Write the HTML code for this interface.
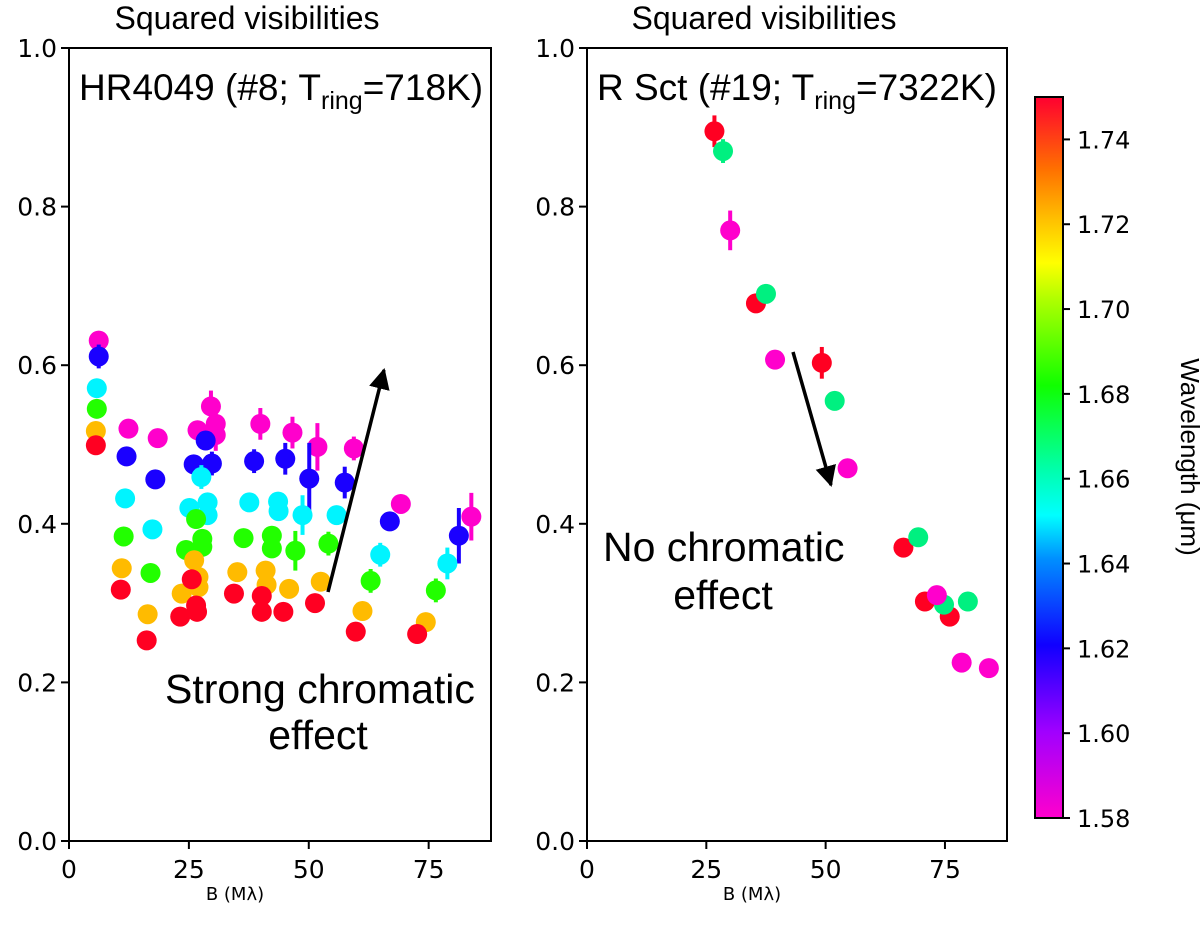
<!DOCTYPE html>
<html><head><meta charset="utf-8"><style>
html,body{margin:0;padding:0;background:#fff;}
svg{display:block;}
</style></head><body>
<svg id="chart" width="1200" height="928" viewBox="0 0 1200 928" xmlns="http://www.w3.org/2000/svg">
<defs>
<linearGradient id="cbgrad" x1="0" y1="1" x2="0" y2="0">
<stop offset="0" stop-color="#ff00cc"/>
<stop offset="0.12" stop-color="#a000ff"/>
<stop offset="0.24" stop-color="#1000ff"/>
<stop offset="0.36" stop-color="#0090ff"/>
<stop offset="0.42" stop-color="#00ffff"/>
<stop offset="0.48" stop-color="#00ffb0"/>
<stop offset="0.60" stop-color="#10ff00"/>
<stop offset="0.72" stop-color="#b0ff00"/>
<stop offset="0.77" stop-color="#ffff00"/>
<stop offset="0.83" stop-color="#ffc000"/>
<stop offset="0.90" stop-color="#ff7000"/>
<stop offset="1" stop-color="#ff0030"/>
</linearGradient>
<marker id="ah" viewBox="0 0 10 10" refX="9" refY="5" markerWidth="6" markerHeight="6" orient="auto"><path d="M0,0 L10,5 L0,10 z" fill="#000"/></marker>
</defs>
<g id="g"></g>
</svg>
<script>
// ---- data: left panel (HR4049) ----
const leftMagX=[6.2,12.4,18.5,26.8,29.6,30.6,30.6,39.9,46.6,51.8,59.4,69.2,83.9];
const leftMagY=[0.631,0.520,0.508,0.518,0.548,0.526,0.512,0.526,0.515,0.497,0.495,0.425,0.409];
const leftMagE=[0.01,0.005,0.005,0.005,0.02,0.015,0.02,0.02,0.02,0.03,0.015,0.005,0.03];
const leftBlueX=[6.2,12.0,18.0,26.0,28.5,29.8,38.6,45.1,50.1,57.5,66.9,81.3];
const leftBlueY=[0.611,0.485,0.456,0.475,0.505,0.476,0.479,0.482,0.457,0.452,0.403,0.385];
const leftBlueE=[0.015,0.005,0.01,0.005,0.01,0.015,0.015,0.02,0.045,0.02,0.005,0.035];
const leftCyanX=[5.8,11.7,17.4,25.1,27.6,28.9,28.9,37.6,43.6,43.7,48.7,55.8,64.9,78.9];
const leftCyanY=[0.571,0.432,0.393,0.420,0.459,0.427,0.411,0.427,0.428,0.416,0.411,0.411,0.361,0.350];
const leftCyanE=[0.005,0.005,0.005,0.005,0.015,0.01,0.01,0.01,0.01,0.01,0.025,0.01,0.015,0.02];
const leftGreenX=[5.8,11.4,17.0,24.4,26.5,27.8,27.8,36.4,42.3,42.3,47.2,54.1,62.9,76.5];
const leftGreenY=[0.545,0.384,0.338,0.367,0.406,0.381,0.371,0.382,0.385,0.369,0.366,0.375,0.328,0.316];
const leftGreenE=[0.005,0.005,0.005,0.005,0.01,0.01,0.01,0.005,0.01,0.01,0.025,0.015,0.015,0.015];
const leftOrangeX=[5.6,11.0,16.4,23.5,26.1,27.0,27.0,35.1,41.0,41.2,45.9,52.5,61.2,74.4];
const leftOrangeY=[0.517,0.344,0.286,0.312,0.354,0.333,0.320,0.339,0.341,0.323,0.318,0.327,0.290,0.276];
const leftOrangeE=[0.005,0.005,0.005,0.005,0.005,0.005,0.005,0.005,0.005,0.005,0.005,0.005,0.005,0.01];
const leftRedX=[5.6,10.8,16.2,23.2,25.6,26.5,26.7,34.4,40.2,40.2,44.7,51.3,59.8,72.6];
const leftRedY=[0.499,0.317,0.253,0.283,0.330,0.297,0.289,0.312,0.309,0.289,0.289,0.300,0.264,0.261];
const leftRedE=[0.005,0.005,0.005,0.005,0.005,0.005,0.005,0.005,0.005,0.005,0.005,0.005,0.005,0.005];
// ---- data: right panel (R Sct) ----
const rightRedX=[26.7,35.4,49.2,66.3,70.8,76.0];
const rightRedY=[0.895,0.678,0.603,0.370,0.302,0.283];
const rightRedE=[0.02,0.012,0.02,0.01,0.005,0.005];
const rightGreenX=[28.5,37.5,51.9,69.4,74.8,79.8];
const rightGreenY=[0.870,0.690,0.555,0.383,0.298,0.302];
const rightGreenE=[0.015,0.012,0.005,0.005,0.005,0.005];
const rightMagX=[30.0,39.4,54.6,73.3,78.5,84.2];
const rightMagY=[0.770,0.607,0.470,0.310,0.225,0.218];
const rightMagE=[0.025,0.01,0.005,0.005,0.005,0.005];
const xTicks=[0,25,50,75];
const yTicks=[0.0,0.2,0.4,0.6,0.8,1.0];
const cbTicks=[1.58,1.60,1.62,1.64,1.66,1.68,1.70,1.72,1.74];

const NS="http://www.w3.org/2000/svg";
const G=document.getElementById('g');
function mk(tag,attrs,parent,text){const e=document.createElementNS(NS,tag);for(const k in attrs)e.setAttribute(k,attrs[k]);if(text!==undefined)e.textContent=text;(parent||G).appendChild(e);return e;}
const TOP=48,BOT=841,XMAX=88;
function panel(x0,x1){return {x:v=>x0+(x1-x0)*v/XMAX,y:v=>BOT-(BOT-TOP)*v,x0:x0,x1:x1};}
const L=panel(69,491), R=panel(587,1007);

function axes(P,name,title,label,sub,rest){
  const g=mk('g',{});
  
  
  const t=mk('text',{x:(P.x0+P.x1)/2-33,y:29,'text-anchor':'middle','font-family':'Liberation Sans, sans-serif','font-size':32},g,title);
  
  
  const f=mk('rect',{x:P.x0,y:TOP,width:P.x1-P.x0,height:BOT-TOP,fill:'none',stroke:'#000','stroke-width':2},g);
  
  
  xTicks.forEach(v=>{const px=P.x(v);mk('line',{x1:px,x2:px,y1:BOT,y2:BOT+8,stroke:'#000','stroke-width':2},g);
    const tl=mk('text',{x:px,y:BOT+37,'text-anchor':'middle','font-family':'DejaVu Sans, sans-serif','font-size':25},g,String(v));
    
    });
  yTicks.forEach(v=>{const py=P.y(v);mk('line',{x1:P.x0-8,x2:P.x0,y1:py,y2:py,stroke:'#000','stroke-width':2},g);
    const tl=mk('text',{x:P.x0-12,y:py+9,'text-anchor':'end','font-family':'DejaVu Sans, sans-serif','font-size':25},g,v.toFixed(1));
    
    });
  const xl=mk('text',{x:(P.x0+P.x1)/2-45,y:900,'text-anchor':'middle','font-family':'DejaVu Sans, sans-serif','font-size':18},g,'B (Mλ)');
  
  
  const lb=mk('text',{x:P.x0+10,y:100,'font-family':'Liberation Sans, sans-serif','font-size':37},g);
  
  
  lb.appendChild(document.createTextNode(label));
  mk('tspan',{'font-size':25,dy:9},lb,sub);
  mk('tspan',{dy:-9},lb,rest);
}
function series(P,xs,ys,es,col,name){
  const g=mk('g',{});
  
  
  xs.forEach((v,i)=>{const px=P.x(v),py=P.y(ys[i]);
    mk('line',{x1:px,x2:px,y1:P.y(ys[i]+es[i]),y2:P.y(ys[i]-es[i]),stroke:col,'stroke-width':4},g);
    const c=mk('circle',{cx:px,cy:py,r:10,fill:col},g);
    
    });
}
axes(L,'left-panel','Squared visibilities','HR4049 (#8; T','ring','=718K)');
axes(R,'right-panel','Squared visibilities','R Sct (#19; T','ring','=7322K)');
series(L,leftMagX,leftMagY,leftMagE,'#ff00cc','left-1.58um');
series(L,leftBlueX,leftBlueY,leftBlueE,'#1a00ff','left-1.62um');
series(L,leftCyanX,leftCyanY,leftCyanE,'#00f4ff','left-1.64um');
series(L,leftGreenX,leftGreenY,leftGreenE,'#22ff00','left-1.68um');
series(L,leftOrangeX,leftOrangeY,leftOrangeE,'#ffbb00','left-1.72um');
series(L,leftRedX,leftRedY,leftRedE,'#ff0022','left-1.75um');
series(R,rightRedX,rightRedY,rightRedE,'#ff0022','right-1.75um');
series(R,rightGreenX,rightGreenY,rightGreenE,'#00f080','right-1.66um');
series(R,rightMagX,rightMagY,rightMagE,'#ff00cc','right-1.58um');

// annotations
const a1=mk('line',{x1:328,y1:592,x2:384,y2:370,stroke:'#000','stroke-width':3.5,'marker-end':'url(#ah)'});


const a2=mk('line',{x1:793,y1:352,x2:831,y2:485,stroke:'#000','stroke-width':3.5,'marker-end':'url(#ah)'});


const t1=mk('text',{x:165,y:703,'font-family':'Liberation Sans, sans-serif','font-size':41},G,'Strong chromatic');


const t1b=mk('text',{x:318,y:749,'text-anchor':'middle','font-family':'Liberation Sans, sans-serif','font-size':41},G,'effect');


const t2=mk('text',{x:603,y:561,'font-family':'Liberation Sans, sans-serif','font-size':41},G,'No chromatic');


const t2b=mk('text',{x:723,y:609,'text-anchor':'middle','font-family':'Liberation Sans, sans-serif','font-size':41},G,'effect');



// colorbar
const CB_TOP=97,CB_BOT=818,CMIN=1.58,CMAX=1.75;
const cy=v=>CB_BOT-(CB_BOT-CB_TOP)*(v-CMIN)/(CMAX-CMIN);
const cb=mk('g',{});


mk('rect',{x:1035,y:CB_TOP,width:28,height:CB_BOT-CB_TOP,fill:'url(#cbgrad)',stroke:'#000','stroke-width':2},cb);
cbTicks.forEach(v=>{const py=cy(v);mk('line',{x1:1063,x2:1070,y1:py,y2:py,stroke:'#000','stroke-width':2},cb);
  const tl=mk('text',{x:1077,y:py+9,'font-family':'DejaVu Sans, sans-serif','font-size':24},cb,v.toFixed(2));
  
  });
const cl=mk('text',{x:1181,y:457,'text-anchor':'middle','font-family':'Liberation Sans, sans-serif','font-size':26,transform:'rotate(90 1181 457)'},cb,'Wavelength (μm)');


</script>
</body></html>
